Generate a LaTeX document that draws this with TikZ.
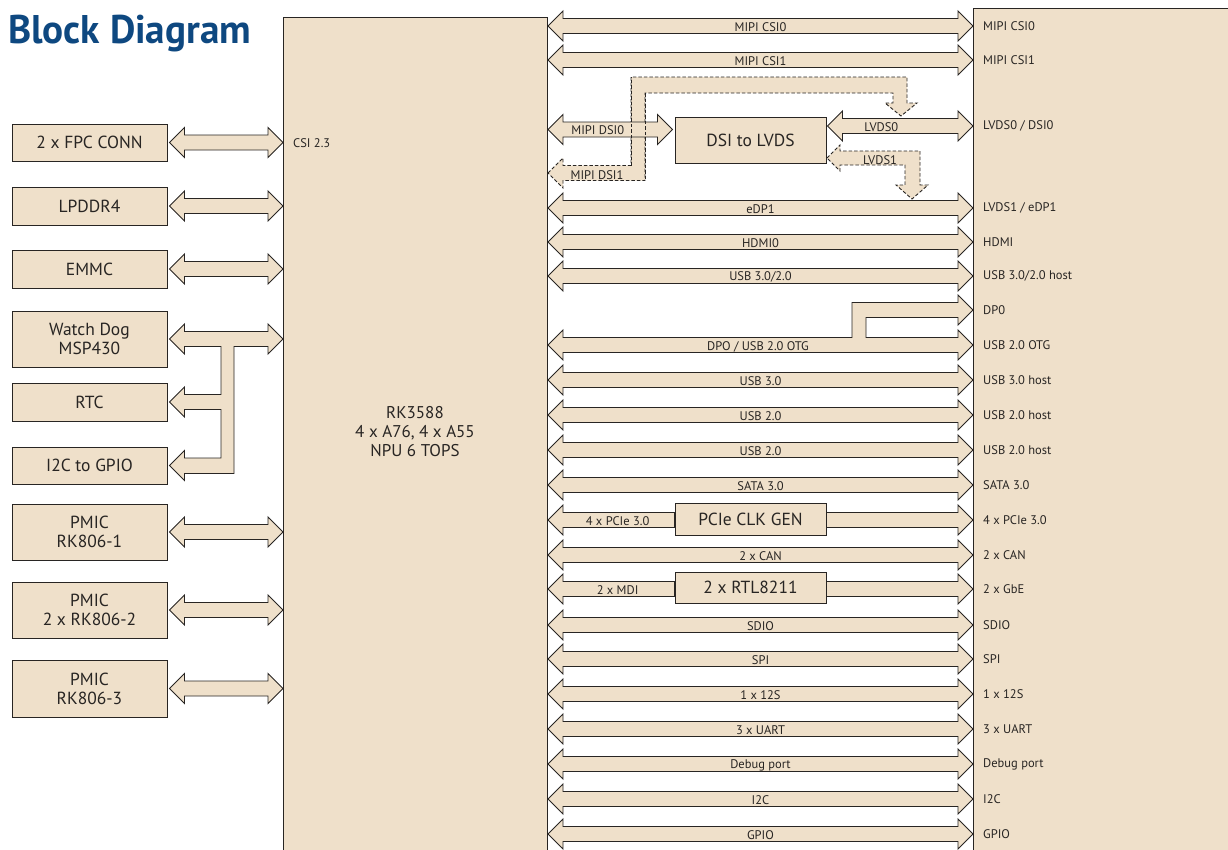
\documentclass[tikz,border=0pt]{standalone}
\usepackage{fontspec}
\setmainfont{PT Sans}
\usetikzlibrary{calc,positioning}
\definecolor{boxfill}{RGB}{239,224,202}
\definecolor{linec}{RGB}{40,37,35}
\definecolor{titleblue}{RGB}{14,72,128}

% fat double arrow between two points at one height, optional label position
\newcommand{\dblbus}[4][0.5]{%
  \draw[fat bus] let \p1=#2, \p2=#3 in
    (\x1,\y1) -- ++(15pt,15pt) -- ++(0pt,-7.5pt) -- (\x2-15pt,\y1+7.5pt) -- ++(0pt,7.5pt)
    -- (\x2,\y1) -- ++(-15pt,-15pt) -- ++(0pt,7.5pt) -- (\x1+15pt,\y1-7.5pt) -- ++(0pt,-7.5pt) -- cycle;
  \if\relax\detokenize{#4}\relax\else
    \path let \p1=#2, \p2=#3 in ({\x1+#1*(\x2-\x1)},\y1-1pt) node[bus text] {#4};
  \fi}
% fat arrow, head on the left only
\newcommand{\lbus}[4][0.5]{%
  \draw[fat bus] let \p1=#2, \p2=#3 in
    (\x1,\y1) -- ++(15pt,15pt) -- ++(0pt,-7.5pt) -- (\x2,\y1+7.5pt) -- (\x2,\y1-7.5pt)
    -- (\x1+15pt,\y1-7.5pt) -- ++(0pt,-7.5pt) -- cycle;
  \path let \p1=#2, \p2=#3 in ({\x1+#1*(\x2-\x1)},\y1-1pt) node[bus text] {#4};}
% fat arrow, head on the right only
\newcommand{\rbus}[2]{%
  \draw[fat bus] let \p1=#1, \p2=#2 in
    (\x1,\y1+7.5pt) -- (\x2-15pt,\y1+7.5pt) -- ++(0pt,7.5pt) -- (\x2,\y1) -- ++(-15pt,-15pt)
    -- ++(0pt,7.5pt) -- (\x1,\y1-7.5pt) -- cycle;}

\begin{document}
\begin{tikzpicture}[x=1pt,y=-1pt,
    main box/.style={draw=linec,fill=boxfill,line width=1pt,inner sep=0pt,minimum width=155pt,
      align=center,text=linec,font=\fontsize{17.5}{19}\selectfont},
    fat bus/.style={draw=linec,fill=boxfill,line width=0.9pt,line join=miter},
    dash bus/.style={fat bus,dash pattern=on 3.5pt off 2pt},
    bus text/.style={inner sep=0pt,text=linec,font=\fontsize{12.5}{14}\selectfont},
    port text/.style={anchor=west,inner sep=0pt,text=linec,font=\fontsize{12.5}{14}\selectfont}]
  \useasboundingbox (0,0) rectangle (1228,849);

  % Nodes
  \node[anchor=west,inner sep=0pt,text=titleblue,xscale=0.98,font=\fontsize{40}{44}\selectfont\bfseries] (title) at (8,34) {Block Diagram};

  \node[main box,minimum height=37pt] (fpc) at (89.5,142.5) {2 x FPC CONN};
  \node[main box,minimum height=38pt] (lpddr) at (89.5,206) {LPDDR4};
  \node[main box,minimum height=38pt] (emmc) at (89.5,269) {EMMC};
  \node[main box,minimum height=56pt] (wdog) at (89.5,339) {Watch Dog\\MSP430};
  \node[main box,minimum height=38pt] (rtc) at (89.5,402) {RTC};
  \node[main box,minimum height=37pt] (ioexp) at (89.5,465.5) {I2C to GPIO};
  \node[main box,minimum height=56pt] (pmicA) at (89.5,532) {PMIC\\RK806-1};
  \node[main box,minimum height=56pt] (pmicB) at (89.5,610) {PMIC\\2 x RK806-2};
  \node[main box,minimum height=57pt] (pmicC) at (89.5,688.5) {PMIC\\RK806-3};

  \node[main box,minimum width=264pt,minimum height=870pt,anchor=north west] (soc) at (283,17) {};
  \node[align=center,text=linec,font=\fontsize{17}{19}\selectfont] (socname) at (415,432) {RK3588\\4 x A76, 4 x A55\\NPU 6 TOPS};
  \node[port text] (csiin) at (293,143) {CSI 2.3};

  \node[main box,minimum width=270pt,minimum height=870pt,anchor=north west] (io) at (973,8) {};

  \node[main box,minimum width=151pt,minimum height=46pt] (dsi) at (750.5,140) {DSI to LVDS};
  \node[main box,minimum width=151pt,minimum height=32pt] (pcie) at (750.5,519) {PCIe CLK GEN};
  \node[main box,minimum width=151pt,minimum height=31pt] (rtl) at (750.5,587.5) {2 x RTL8211};

  % port names
  \node[port text] (csi0r) at (983,26) {MIPI CSI0};
  \node[port text] (csi1r) at (983,60) {MIPI CSI1};
  \node[port text] (lvdsr) at (983,126) {LVDS0 / DSI0};
  \node[port text] (edpr) at (983,208) {LVDS1 / eDP1};
  \node[port text] (hdmir) at (983,242) {HDMI};
  \node[port text] (usbr) at (983,276) {USB 3.0/2.0 host};
  \node[port text] (dp0r) at (983,310) {DP0};
  \node[port text] (otgr) at (983,345) {USB 2.0 OTG};
  \node[port text] (usb3r) at (983,380) {USB 3.0 host};
  \node[port text] (usb2ar) at (983,415) {USB 2.0 host};
  \node[port text] (usb2br) at (983,450) {USB 2.0 host};
  \node[port text] (satar) at (983,485) {SATA 3.0};
  \node[port text] (pcier) at (983,520) {4 x PCIe 3.0};
  \node[port text] (canr) at (983,555) {2 x CAN};
  \node[port text] (gber) at (983,589) {2 x GbE};
  \node[port text] (sdior) at (983,625) {SDIO};
  \node[port text] (spir) at (983,659) {SPI};
  \node[port text] (i2sr) at (983,694) {1 x 12S};
  \node[port text] (uartr) at (983,729) {3 x UART};
  \node[port text] (dbgr) at (983,764) {Debug port};
  \node[port text] (i2cr) at (983,799) {I2C};
  \node[port text] (gpior) at (983,834) {GPIO};

  % Edges, left side
  \dblbus{([xshift=2pt]fpc.east)}{(soc.west |- fpc.east)}{}
  \dblbus{([xshift=2pt]lpddr.east)}{(soc.west |- lpddr.east)}{}
  \dblbus{([xshift=2pt]emmc.east)}{(soc.west |- emmc.east)}{}
  \dblbus{([xshift=2pt]pmicA.east)}{(soc.west |- pmicA.east)}{}
  \dblbus{([xshift=2pt]pmicB.east)}{(soc.west |- pmicB.east)}{}
  \dblbus{([xshift=2pt]pmicC.east)}{(soc.west |- pmicC.east)}{}
  % shared bus to watch dog, rtc and gpio expander
  \draw[fat bus] let \p1=([xshift=2pt]wdog.east), \p2=([xshift=2pt]rtc.east),
      \p3=([xshift=2pt]ioexp.east), \p4=(soc.west |- wdog.east) in
    (\p1) -- ++(15pt,15pt) -- ++(0pt,-7.5pt) -- (\x4-15pt,\y1+7.5pt) -- ++(0pt,7.5pt) -- (\p4)
    -- ++(-15pt,-15pt) -- ++(0pt,7.5pt) -- (234pt,\y1-7.5pt) -- (234pt,\y3-8pt) -- (\x3+15pt,\y3-8pt)
    -- ++(0pt,-7pt) -- (\p3) -- ++(15pt,15pt) -- ++(0pt,-7.5pt) -- (221pt,\y3+7.5pt)
    -- (221pt,\y2-7.5pt) -- (\x2+15pt,\y2-7.5pt) -- ++(0pt,-7.5pt) -- (\p2) -- ++(15pt,15pt)
    -- ++(0pt,-7.5pt) -- (221pt,\y2+7.5pt) -- (221pt,\y1-7.5pt) -- (\x1+15pt,\y1-7.5pt) -- ++(0pt,-7.5pt) -- cycle;

  % Edges, right side
  \dblbus{(soc.east |- csi0r)}{(io.west |- csi0r)}{MIPI CSI0}
  \dblbus{(soc.east |- csi1r)}{(io.west |- csi1r)}{MIPI CSI1}
  % MIPI DSI1 taken over to the LVDS0 lane
  \draw[dash bus] (548,173) -- (563,158) -- (563,165.5) -- (631,165.5) -- (631,77) -- (907,77)
    -- (907,103) -- (917,103) -- (901,116) -- (885,103) -- (893,103) -- (893,93) -- (645,93)
    -- (645,180.5) -- (563,180.5) -- (563,188) -- cycle;
  \dblbus[0.4]{(soc.east |- 0,129.5)}{([xshift=-2pt]dsi.west |- 0,129.5)}{MIPI DSI0}
  \draw[dash bus,fill=none] (631,165.5) -- (631,77) (645,93) -- (645,180.5);
  \node[bus text] (dsi1lbl) at (597,175) {MIPI DSI1};
  \dblbus[0.37]{([xshift=1pt]dsi.east |- lvdsr)}{(io.west |- lvdsr)}{LVDS0}
  % LVDS1 taken down to the eDP1 lane
  \draw[dash bus] (827,158) -- (840,145) -- (840,151) -- (920,151) -- (920,185) -- (928,185)
    -- (912,199) -- (896,185) -- (905,185) -- (905,165) -- (840,165) -- (840,171) -- cycle;
  \node[bus text] (lvds1lbl) at (880,160) {LVDS1};

  \dblbus{(soc.east |- edpr)}{(io.west |- edpr)}{eDP1}
  \dblbus{(soc.east |- hdmir)}{(io.west |- hdmir)}{HDMI0}
  \dblbus{(soc.east |- usbr)}{(io.west |- usbr)}{USB 3.0/2.0}
  % DP0 and USB 2.0 OTG share one port
  \draw[fat bus] let \p1=(soc.east |- otgr), \p2=(io.west |- otgr), \p3=(io.west |- dp0r) in
    (\p1) -- ++(15pt,15pt) -- ++(0pt,-7.5pt) -- (852pt,\y1+7.5pt) -- (852pt,\y3+7.5pt)
    -- (\x3-15pt,\y3+7.5pt) -- ++(0pt,7.5pt) -- (\p3) -- ++(-15pt,-15pt) -- ++(0pt,7.5pt)
    -- (866pt,\y3-7.5pt) -- (866pt,\y1+7.5pt) -- (\x2-15pt,\y1+7.5pt) -- ++(0pt,7.5pt) -- (\p2)
    -- ++(-15pt,-15pt) -- ++(0pt,7.5pt) -- (\x1+15pt,\y1-7.5pt) -- ++(0pt,-7.5pt) -- cycle;
  \node[bus text] (otglbl) at (758,347) {DPO / USB 2.0 OTG};
  \dblbus{(soc.east |- usb3r)}{(io.west |- usb3r)}{USB 3.0}
  \dblbus{(soc.east |- usb2ar)}{(io.west |- usb2ar)}{USB 2.0}
  \dblbus{(soc.east |- usb2br)}{(io.west |- usb2br)}{USB 2.0}
  \dblbus{(soc.east |- satar)}{(io.west |- satar)}{SATA 3.0}
  \lbus[0.55]{(soc.east |- pcier)}{(pcie.west |- pcier)}{4 x PCIe 3.0}
  \rbus{(pcie.east |- pcier)}{(io.west |- pcier)}
  \dblbus{(soc.east |- canr)}{(io.west |- canr)}{2 x CAN}
  \lbus[0.55]{(soc.east |- gber)}{(rtl.west |- gber)}{2 x MDI}
  \rbus{(rtl.east |- gber)}{(io.west |- gber)}
  \dblbus{(soc.east |- sdior)}{(io.west |- sdior)}{SDIO}
  \dblbus{(soc.east |- spir)}{(io.west |- spir)}{SPI}
  \dblbus{(soc.east |- i2sr)}{(io.west |- i2sr)}{1 x 12S}
  \dblbus{(soc.east |- uartr)}{(io.west |- uartr)}{3 x UART}
  \dblbus{(soc.east |- dbgr)}{(io.west |- dbgr)}{Debug port}
  \dblbus{(soc.east |- i2cr)}{(io.west |- i2cr)}{I2C}
  \dblbus{(soc.east |- gpior)}{(io.west |- gpior)}{GPIO}
\end{tikzpicture}
\end{document}
